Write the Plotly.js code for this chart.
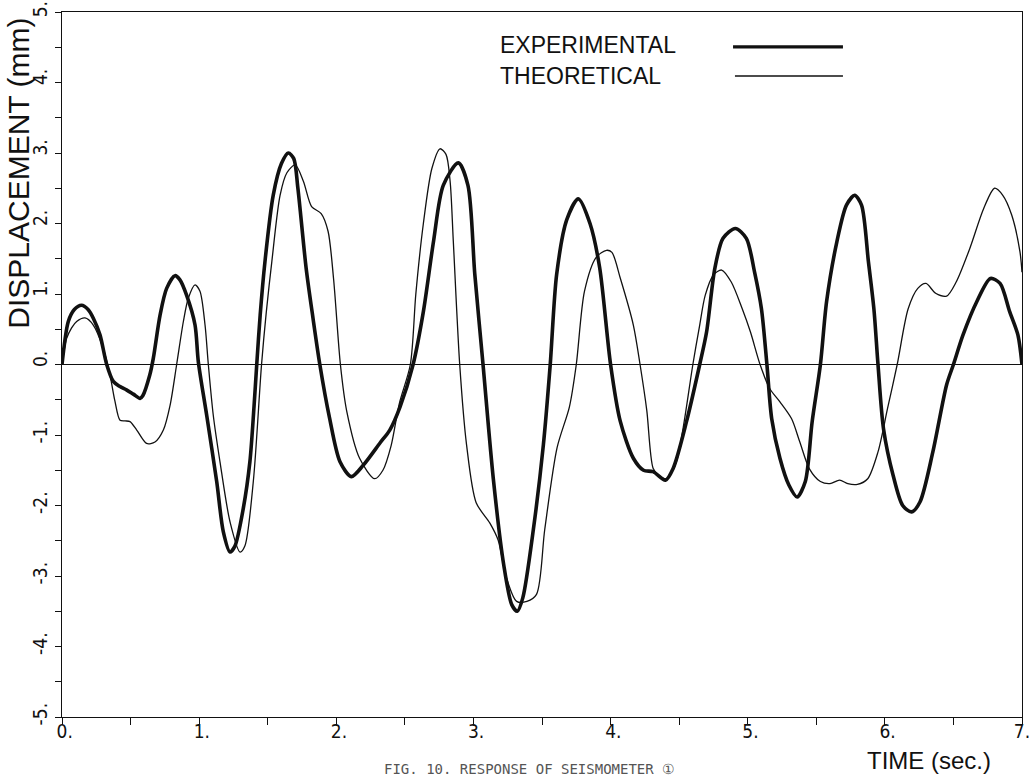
<!DOCTYPE html>
<html>
<head>
<meta charset="utf-8">
<script src="https://cdn.plot.ly/plotly-3.0.1.min.js"></script>
<style>html,body{margin:0;padding:0;background:#fff;}#chart{width:1030px;height:778px;}</style>
</head>
<body>
<div id="chart"></div>
<script>
// Experimental response (thick line)
const expTime = [0, 0.046, 0.09, 0.143, 0.19, 0.23, 0.277, 0.326, 0.374, 0.42, 0.47, 0.52, 0.569, 0.59, 0.64, 0.666, 0.715, 0.763, 0.824, 0.86, 0.909, 0.97, 0.994, 1.055, 1.128, 1.176, 1.225, 1.26, 1.322, 1.37, 1.40, 1.42, 1.445, 1.48, 1.54, 1.60, 1.65, 1.69, 1.72, 1.78, 1.83, 1.88, 1.95, 2.027, 2.11, 2.196, 2.32, 2.39, 2.465, 2.56, 2.635, 2.71, 2.78, 2.89, 2.96, 3.01, 3.07, 3.145, 3.22, 3.28, 3.32, 3.36, 3.437, 3.51, 3.56, 3.607, 3.68, 3.765, 3.85, 3.92, 4.0, 4.07, 4.166, 4.24, 4.31, 4.40, 4.457, 4.555, 4.65, 4.70, 4.76, 4.82, 4.91, 4.99, 5.05, 5.10, 5.14, 5.175, 5.235, 5.30, 5.36, 5.42, 5.47, 5.53, 5.575, 5.65, 5.72, 5.78, 5.83, 5.88, 5.92, 5.95, 5.99, 6.06, 6.13, 6.195, 6.256, 6.35, 6.45, 6.50, 6.57, 6.67, 6.77, 6.84, 6.91, 6.97, 7.0];
const expDisp = [0, 0.61, 0.78, 0.84, 0.78, 0.65, 0.42, 0, -0.24, -0.31, -0.36, -0.42, -0.48, -0.44, -0.15, 0.09, 0.70, 1.08, 1.26, 1.20, 0.98, 0.56, 0.04, -0.72, -1.66, -2.37, -2.66, -2.58, -2.04, -1.38, -0.6, 0, 0.70, 1.46, 2.40, 2.85, 3.0, 2.92, 2.5, 1.37, 0.66, 0, -0.75, -1.38, -1.59, -1.43, -1.11, -0.93, -0.60, 0, 0.75, 1.76, 2.54, 2.86, 2.54, 1.28, 0, -1.62, -2.83, -3.41, -3.50, -3.31, -2.34, -1.14, 0, 1.28, 2.05, 2.35, 2.0, 1.38, 0, -0.80, -1.33, -1.50, -1.52, -1.64, -1.47, -0.80, 0, 0.46, 1.36, 1.79, 1.93, 1.79, 1.31, 0.79, 0, -0.77, -1.33, -1.71, -1.88, -1.66, -0.81, 0, 0.89, 1.74, 2.26, 2.40, 2.26, 1.46, 0.79, 0, -0.91, -1.57, -2.0, -2.09, -1.95, -1.24, -0.29, 0, 0.42, 0.89, 1.22, 1.15, 0.75, 0.42, 0];

// Theoretical response (thin line)
const theoTime = [0, 0.034, 0.07, 0.107, 0.168, 0.228, 0.30, 0.35, 0.386, 0.423, 0.46, 0.496, 0.545, 0.617, 0.678, 0.739, 0.788, 0.836, 0.885, 0.921, 0.97, 1.006, 1.043, 1.067, 1.103, 1.152, 1.225, 1.298, 1.334, 1.395, 1.455, 1.49, 1.53, 1.59, 1.64, 1.70, 1.76, 1.82, 1.89, 1.94, 1.98, 2.03, 2.076, 2.17, 2.28, 2.34, 2.40, 2.46, 2.54, 2.58, 2.635, 2.697, 2.756, 2.80, 2.83, 2.853, 2.90, 2.95, 3.02, 3.12, 3.18, 3.24, 3.315, 3.39, 3.46, 3.52, 3.61, 3.70, 3.75, 3.81, 3.895, 3.97, 4.01, 4.07, 4.166, 4.215, 4.264, 4.31, 4.35, 4.41, 4.48, 4.53, 4.60, 4.65, 4.69, 4.75, 4.81, 4.88, 4.96, 5.02, 5.09, 5.16, 5.235, 5.32, 5.38, 5.45, 5.53, 5.60, 5.67, 5.73, 5.80, 5.875, 5.95, 6.02, 6.09, 6.17, 6.24, 6.30, 6.37, 6.45, 6.52, 6.62, 6.72, 6.80, 6.86, 6.925, 6.985, 7.0];
const theoDisp = [0, 0.37, 0.52, 0.61, 0.66, 0.56, 0.23, -0.15, -0.52, -0.79, -0.80, -0.81, -0.93, -1.12, -1.10, -0.93, -0.58, 0, 0.61, 0.94, 1.13, 1.04, 0.56, 0, -0.72, -1.38, -2.23, -2.66, -2.57, -1.66, 0, 0.75, 1.46, 2.40, 2.72, 2.83, 2.6, 2.24, 2.14, 1.89, 1.22, 0, -0.66, -1.33, -1.62, -1.50, -1.15, -0.55, 0, 1.0, 2.0, 2.78, 3.06, 2.98, 2.6, 1.76, 0, -1.14, -1.96, -2.25, -2.49, -3.02, -3.36, -3.36, -3.26, -2.34, -1.18, -0.60, 0, 1.04, 1.52, 1.62, 1.59, 1.23, 0.56, 0, -0.65, -1.47, -1.57, -1.62, -1.38, -0.89, 0, 0.56, 0.98, 1.27, 1.34, 1.17, 0.79, 0.46, 0, -0.34, -0.53, -0.77, -1.10, -1.48, -1.66, -1.69, -1.64, -1.69, -1.70, -1.62, -1.24, -0.62, 0, 0.79, 1.08, 1.15, 1.01, 0.97, 1.17, 1.65, 2.21, 2.50, 2.40, 2.12, 1.60, 1.31];

// Tick labels (a leading no-break space balances the trailing period so the digit sits on the tick)
const xTickVals = [0, 0.5, 1, 1.5, 2, 2.5, 3, 3.5, 4, 4.5, 5, 5.5, 6, 6.5, 7];
const xTickText = ['\u00A00.', '', '\u00A01.', '', '\u00A02.', '', '\u00A03.', '', '\u00A04.', '', '\u00A05.', '', '\u00A06.', '', '7.'];
const yTickVals = [-5, -4.5, -4, -3.5, -3, -2.5, -2, -1.5, -1, -0.5, 0, 0.5, 1, 1.5, 2, 2.5, 3, 3.5, 4, 4.5, 5];
const yTickText = ['-5.', '', '-4.', '', '-3.', '', '-2.', '', '-1.', '', '\u00A00.', '', '\u00A01.', '', '\u00A02.', '', '\u00A03.', '', '\u00A04.', '', '5.'];

const seriesNames = ['EXPERIMENTAL', 'THEORETICAL'];

const traces = [
  {x: expTime, y: expDisp, name: seriesNames[0], mode: 'lines',
   line: {color: '#111', width: 3.6, shape: 'spline', smoothing: 0.8}},
  {x: theoTime, y: theoDisp, name: seriesNames[1], mode: 'lines',
   line: {color: '#111', width: 1.3, shape: 'spline', smoothing: 0.8}}
];

const font = 'Liberation Sans, Arial, sans-serif';
const tickFont = 'Liberation Sans Narrow, DejaVu Sans Condensed, Liberation Sans, sans-serif';
const layout = {
  width: 1030, height: 778,
  margin: {l: 62, r: 8, t: 12, b: 61},
  paper_bgcolor: '#fff', plot_bgcolor: '#fff',
  showlegend: false,
  font: {family: font, color: '#111'},
  xaxis: {
    range: [0, 7], tickmode: 'array', tickvals: xTickVals, ticktext: xTickText,
    ticks: 'outside', ticklen: 7, tickwidth: 1, tickcolor: '#111',
    ticklabeloverflow: 'allow', ticklabelstandoff: -10,
    showline: true, mirror: true, linecolor: '#111', linewidth: 1,
    showgrid: false, zeroline: false, tickfont: {size: 19, family: tickFont, color: '#111'}
  },
  yaxis: {
    range: [-5, 5], tickmode: 'array', tickvals: yTickVals, ticktext: yTickText,
    tickangle: -90, ticks: 'outside', ticklen: 6, tickwidth: 1, tickcolor: '#111',
    ticklabeloverflow: 'allow',
    showline: true, mirror: true, linecolor: '#111', linewidth: 1,
    showgrid: false, zeroline: true, zerolinecolor: '#111', zerolinewidth: 1.2,
    tickfont: {size: 19, family: tickFont, color: '#111'}
  },
  annotations: [
    {text: 'DISPLACEMENT (mm)', xref: 'paper', yref: 'paper', x: -0.0448, y: 0.772,
     xanchor: 'center', yanchor: 'middle', textangle: -90, showarrow: false,
     font: {size: 30, family: font, color: '#111'}},
    {text: 'TIME (sec.)', xref: 'paper', yref: 'paper', x: 0.9036, y: -0.0822,
     xanchor: 'center', yanchor: 'bottom', showarrow: false, borderpad: 0,
     font: {size: 24, family: font, color: '#111'}},
    {text: seriesNames[0], xref: 'paper', yref: 'paper', x: 0.4542, y: 0.953,
     xanchor: 'left', yanchor: 'middle', showarrow: false,
     font: {size: 23, family: font, color: '#111'}},
    {text: seriesNames[1], xref: 'paper', yref: 'paper', x: 0.4542, y: 0.909,
     xanchor: 'left', yanchor: 'middle', showarrow: false,
     font: {size: 23, family: font, color: '#111'}},
    {text: 'FIG. 10. RESPONSE OF SEISMOMETER \u2460', xref: 'paper', yref: 'paper', x: 0.334, y: -0.0865,
     xanchor: 'left', yanchor: 'bottom', showarrow: false, borderpad: 0,
     font: {size: 14, family: 'DejaVu Sans Mono, monospace', color: '#555'}}
  ],
  shapes: [
    {type: 'line', xref: 'paper', yref: 'paper', x0: 0.699, x1: 0.8135, y0: 0.9504, y1: 0.9504,
     line: {color: '#111', width: 3.2}},
    {type: 'line', xref: 'paper', yref: 'paper', x0: 0.701, x1: 0.8135, y0: 0.9092, y1: 0.9092,
     line: {color: '#111', width: 1.3}}
  ]
};

Plotly.newPlot('chart', traces, layout, {staticPlot: true, displayModeBar: false});
</script>
</body>
</html>
